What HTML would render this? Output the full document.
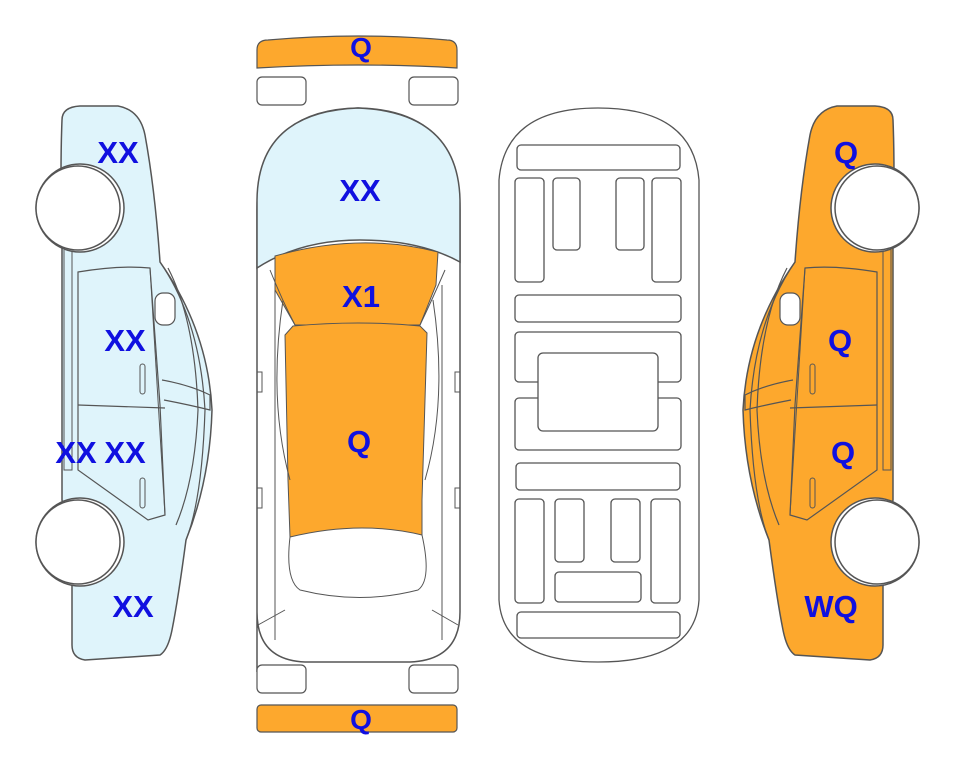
<!DOCTYPE html>
<html><head><meta charset="utf-8"><style>
html,body{margin:0;padding:0;background:#fff;}
svg{display:block}
text{font-family:"Liberation Sans",Arial,sans-serif;font-weight:bold;font-size:31px;fill:#1010e0;text-anchor:middle}
</style></head><body>
<svg width="963" height="768" viewBox="0 0 963 768" xmlns="http://www.w3.org/2000/svg">
<defs>
<g id="side">
  <path d="M62,120 Q62,107 80,106 L118,106 Q140,110 145,135 Q155,190 160,262 Q208,330 212,410 Q210,480 186,540 Q178,600 172,630 Q168,650 160,655 L85,660 Q72,658 72,645 L72,560 L62,500 L62,240 Q60,170 62,120 Z" stroke="#555" stroke-width="1.5"/>
  <path d="M160,262 Q200,320 205,410 Q202,500 186,540" fill="none" stroke="#555" stroke-width="1.2"/>
  <path d="M168,268 Q195,320 198,410 Q195,480 176,525" fill="none" stroke="#555" stroke-width="1.2"/>
  <path d="M78,272 Q120,265 150,268 L160,405 L165,515 L148,520 L78,470 Z" fill="none" stroke="#555" stroke-width="1.2"/>
  <path d="M78,405 L165,408" stroke="#555" stroke-width="1.2"/>
  <path d="M150,268 L165,515" stroke="#555" stroke-width="1"/>
  <path d="M162,380 Q190,385 210,395 L210,410 Q190,405 164,400" fill="none" stroke="#555" stroke-width="1.2"/>
  <rect x="155" y="293" width="20" height="32" rx="8" fill="#fff" stroke="#555" stroke-width="1.2"/>
  <path d="M64,250 L64,470 L72,470 L72,250" fill="none" stroke="#555" stroke-width="1"/>
  <rect x="140" y="364" width="5" height="30" rx="2.5" fill="none" stroke="#555"/>
  <rect x="140" y="478" width="5" height="30" rx="2.5" fill="none" stroke="#555"/>
  <circle cx="80" cy="208" r="44" fill="#fff" stroke="#555" stroke-width="1.5"/>
  <circle cx="78" cy="208" r="42" fill="#fff" stroke="#555" stroke-width="1.5"/>
  <circle cx="80" cy="542" r="44" fill="#fff" stroke="#555" stroke-width="1.5"/>
  <circle cx="78" cy="542" r="42" fill="#fff" stroke="#555" stroke-width="1.5"/>
</g>
</defs>
<use href="#side" fill="#dff4fb"/>
<g transform="translate(955,0) scale(-1,1)"><use href="#side" fill="#fda82d"/></g>

<path d="M257,672 L257,210 Q257,110 358,108 Q460,110 460,210 L460,612 Q460,660 410,662 L305,662 Q257,660 257,612" fill="#fff" stroke="#555" stroke-width="1.5"/>
<path d="M257,260 L257,200 Q258,112 358,108 Q458,112 460,200 L460,262 Q420,240 360,240 Q300,240 257,268 Z" fill="#dff4fb" stroke="#555" stroke-width="1.5"/>
<path d="M275,256 Q360,232 438,252 L436,285 L420,325 L295,325 L275,290 Z" fill="#fda82d" stroke="#555" stroke-width="1"/>
<path d="M285,335 L293,326 Q360,320 420,326 L427,333 L422,500 L422,535 Q360,520 290,537 L288,480 Z" fill="#fda82d" stroke="#555" stroke-width="1"/>
<path d="M270,270 Q282,300 295,325 M445,270 Q432,300 420,325" fill="none" stroke="#555"/>
<path d="M290,537 Q285,580 300,590 Q360,605 418,590 Q432,580 422,535" fill="none" stroke="#555"/>
<path d="M275,285 L275,640 M442,285 L442,640" fill="none" stroke="#555" stroke-width="1"/>
<path d="M283,300 Q268,400 290,480 M433,300 Q448,400 425,480" fill="none" stroke="#555"/>
<rect x="257" y="372" width="5" height="20" fill="none" stroke="#555"/>
<rect x="455" y="372" width="5" height="20" fill="none" stroke="#555"/>
<rect x="257" y="488" width="5" height="20" fill="none" stroke="#555"/>
<rect x="455" y="488" width="5" height="20" fill="none" stroke="#555"/>
<path d="M258,625 L285,610 M458,625 L432,610" stroke="#555"/>

<path d="M257,50 Q257,40 268,40 Q360,32 447,40 Q457,40 457,50 L457,68 Q360,62 257,68 Z" fill="#fda82d" stroke="#555" stroke-width="1.2"/>
<rect x="257" y="77" width="49" height="28" rx="5" fill="#fff" stroke="#555" stroke-width="1.2"/>
<rect x="409" y="77" width="49" height="28" rx="5" fill="#fff" stroke="#555" stroke-width="1.2"/>
<rect x="257" y="665" width="49" height="28" rx="5" fill="#fff" stroke="#555" stroke-width="1.2"/>
<rect x="409" y="665" width="49" height="28" rx="5" fill="#fff" stroke="#555" stroke-width="1.2"/>
<rect x="257" y="705" width="200" height="27" rx="4" fill="#fda82d" stroke="#555" stroke-width="1.2"/>

<g fill="#fff" stroke="#555" stroke-width="1.3">
<path d="M499,180 Q505,108 598,108 Q693,108 699,180 L699,600 Q695,662 598,662 Q503,662 499,600 Z"/>
<rect x="517" y="145" width="163" height="25" rx="4"/>
<rect x="515" y="178" width="29" height="104" rx="4"/>
<rect x="553" y="178" width="27" height="72" rx="4"/>
<rect x="616" y="178" width="28" height="72" rx="4"/>
<rect x="652" y="178" width="29" height="104" rx="4"/>
<rect x="515" y="295" width="166" height="27" rx="4"/>
<rect x="515" y="332" width="166" height="50" rx="4"/>
<rect x="515" y="398" width="166" height="52" rx="4"/>
<rect x="538" y="353" width="120" height="78" rx="5"/>
<rect x="516" y="463" width="164" height="27" rx="4"/>
<rect x="515" y="499" width="29" height="104" rx="4"/>
<rect x="555" y="499" width="29" height="63" rx="4"/>
<rect x="611" y="499" width="29" height="63" rx="4"/>
<rect x="651" y="499" width="29" height="104" rx="4"/>
<rect x="555" y="572" width="86" height="30" rx="4"/>
<rect x="517" y="612" width="163" height="26" rx="4"/>
</g>

<text x="118" y="163">XX</text>
<text x="125" y="351">XX</text>
<text x="76" y="463">XX</text>
<text x="125" y="463">XX</text>
<text x="133" y="617">XX</text>
<text x="360" y="201">XX</text>
<text x="361" y="307">X1</text>
<text x="359" y="452">Q</text>
<text x="361" y="57" style="font-size:28px">Q</text>
<text x="361" y="729" style="font-size:28px">Q</text>
<text x="846" y="163">Q</text>
<text x="840" y="351">Q</text>
<text x="843" y="463">Q</text>
<text x="831" y="617">WQ</text>
</svg>
</body></html>
